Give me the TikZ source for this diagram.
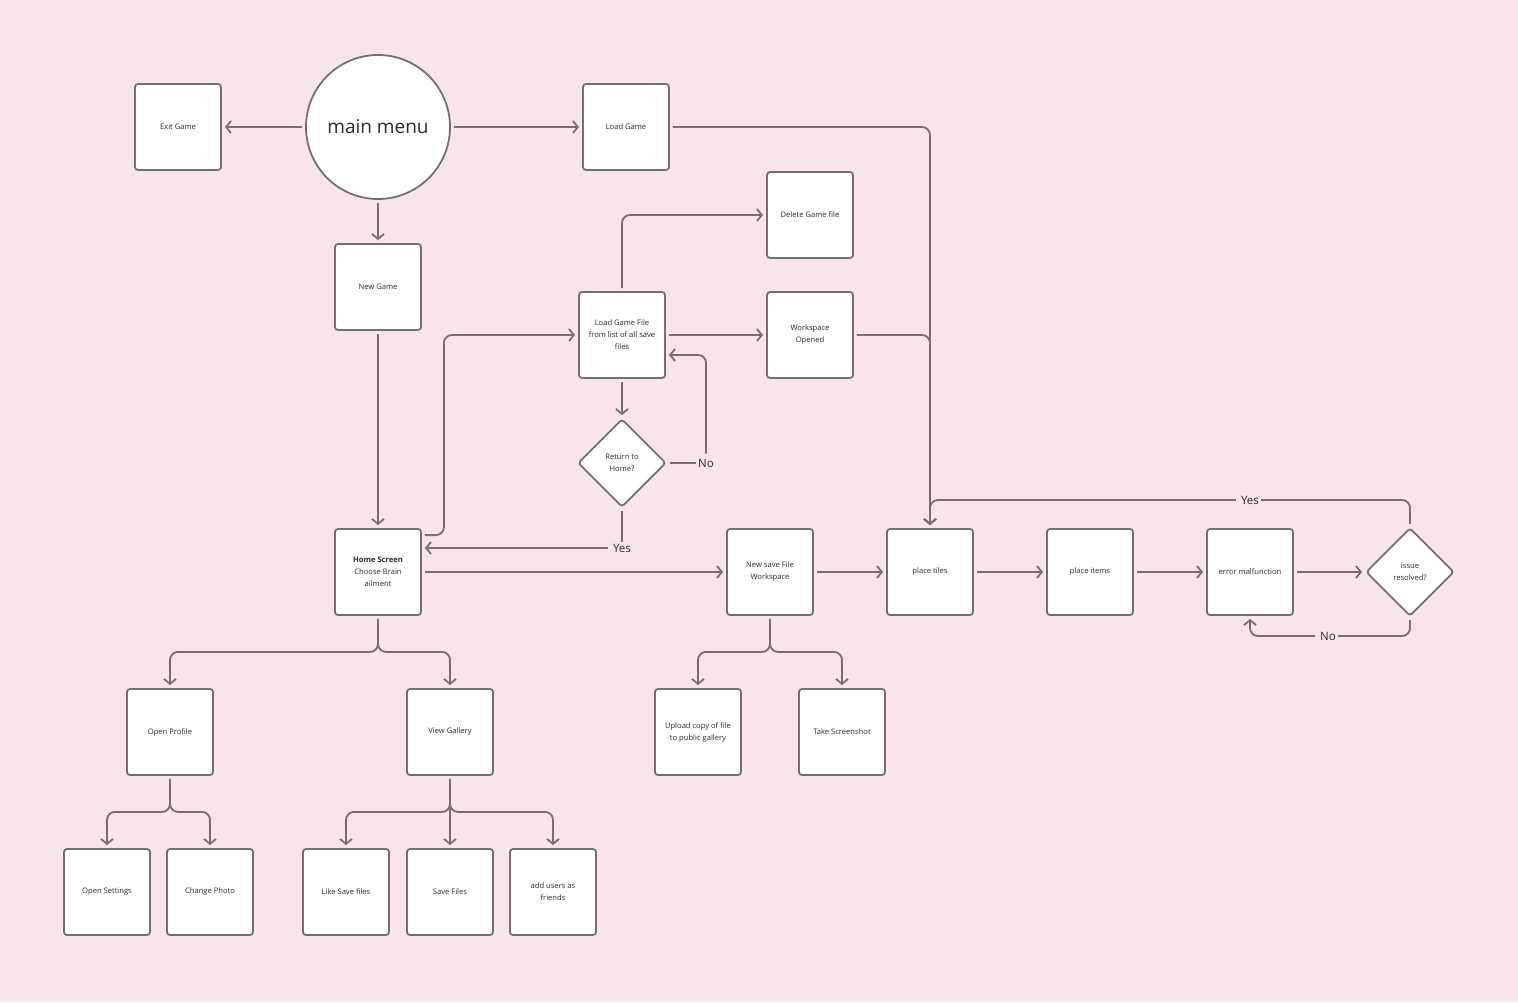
\documentclass[tikz,border=0pt]{standalone}
\usepackage{fontspec}
\setmainfont{Open Sans}
\usetikzlibrary{shapes.geometric, arrows.meta, positioning}

\definecolor{bgpink}{RGB}{248,228,235}
\definecolor{edgegray}{RGB}{117,111,113}
\definecolor{textgray}{RGB}{45,42,44}

\tikzset{
  box/.style={rectangle, draw=edgegray, fill=white, line width=1.8pt, rounded corners=3pt, minimum size=86pt, inner sep=1pt, align=center, text=textgray, font=\fontsize{7.6}{12}\selectfont},
  choice/.style={diamond, draw=edgegray, fill=white, line width=1.8pt, rounded corners=3pt, aspect=1, minimum size=88pt, inner sep=0pt, align=center, text=textgray, font=\fontsize{7.6}{12}\selectfont},
  menucircle/.style={circle, draw=edgegray, fill=white, line width=1.8pt, minimum size=144pt, text=textgray, font=\fontsize{19}{22}\selectfont},
  lbl/.style={inner sep=2pt, text=textgray, font=\fontsize{11.5}{13}\selectfont},
  line/.style={draw=edgegray, line width=1.8pt, rounded corners=8pt, shorten <=3pt},
  arrow/.style={line, -{Straight Barb[length=5pt, width=12pt, line width=1.8pt]}, shorten >=3pt},
}

\begin{document}
\begin{tikzpicture}[x=1pt, y=-1pt, node distance=160pt]
  \useasboundingbox[fill=bgpink] (0,0) rectangle (1518,1002);

  \node[menucircle] (menu) at (378,127) {main menu};
  \node[box, left of=menu, node distance=200pt]  (exit) {Exit Game};
  \node[box, right of=menu, node distance=248pt] (load) {Load Game};
  \node[box, below of=menu] (new) {New Game};
  \node[box, below of=new, node distance=285pt] (home) {\textbf{Home Screen}\\Choose Brain\\ailment};

  \node[box] (lgf) at (622,335) {Load Game File\\from list of all save\\files};
  \node[box, right of=lgf, node distance=188pt] (wo)  {Workspace\\Opened};
  \node[box, above of=wo, node distance=120pt]  (del) {Delete Game file};
  \node[choice, below of=lgf, node distance=128pt] (rth) {Return to\\Home?};

  \node[box, right of=home, node distance=392pt] (nsf) {New save File\\Workspace};
  \node[box, right of=nsf] (tiles) {place tiles};
  \node[box, right of=tiles] (items) {place items};
  \node[box, right of=items] (err) {error malfunction};
  \node[choice, right of=err] (res) {issue\\resolved?};

  \node[box] (prof) at (170,732) {Open Profile};
  \node[box] (gal)  at (450,732) {View Gallery};
  \node[box] (upl)  at (698,732) {Upload copy of file\\to public gallery};
  \node[box] (shot) at (842,732) {Take Screenshot};
  \node[box] (sett) at (107,892) {Open Settings};
  \node[box] (photo) at (210,892) {Change Photo};
  \node[box] (like) at (346,892) {Like Save files};
  \node[box, below of=gal] (savef) {Save Files};
  \node[box] (friends) at (553,892) {add users as\\friends};

  \node[lbl] (no1)  at (706,463)  {No};
  \node[lbl] (yes1) at (622,548)  {Yes};
  \node[lbl] (yes2) at (1250,500) {Yes};
  \node[lbl] (no2)  at (1328,636) {No};

  \draw[arrow] (menu) -- (exit);
  \draw[arrow] (menu) -- (load);
  \draw[arrow] (menu) -- (new);
  \draw[arrow] (new) -- (home);
  \draw[arrow] (load.east) -| (tiles.north);
  \draw[arrow] (wo.east) -| (tiles.north);

  \draw[arrow] ([yshift=-7pt]home.north east) -- ++(22,0) |- (lgf.west);
  \draw[arrow] (lgf.north) |- (del.west);
  \draw[arrow] (lgf) -- (wo);
  \draw[arrow] (lgf) -- (rth);
  \draw[line]  (rth) -- (no1);
  \draw[arrow] (no1) |- ([yshift=-20pt]lgf.east);
  \draw[line]  (rth) -- (yes1);
  \draw[arrow] (yes1) -- ([yshift=24pt]home.east);

  \draw[arrow] (home) -- (nsf);
  \draw[arrow] (nsf) -- (tiles);
  \draw[arrow] (tiles) -- (items);
  \draw[arrow] (items) -- (err);
  \draw[arrow] (err) -- (res);
  \draw[line]  (res.north) |- (yes2);
  \draw[arrow] (yes2) -| (tiles.north);
  \draw[line]  (res.south) |- (no2);
  \draw[arrow] (no2) -| (err.south);

  \draw[arrow] (home.south) -- ++(0,36) -| (prof.north);
  \draw[arrow] (home.south) -- ++(0,36) -| (gal.north);
  \draw[arrow] (prof.south) -- ++(0,36) -| (sett.north);
  \draw[arrow] (prof.south) -- ++(0,36) -| (photo.north);
  \draw[arrow] (gal.south) -- ++(0,36) -| (like.north);
  \draw[arrow] (gal) -- (savef);
  \draw[arrow] (gal.south) -- ++(0,36) -| (friends.north);
  \draw[arrow] (nsf.south) -- ++(0,36) -| (upl.north);
  \draw[arrow] (nsf.south) -- ++(0,36) -| (shot.north);
\end{tikzpicture}
\end{document}
